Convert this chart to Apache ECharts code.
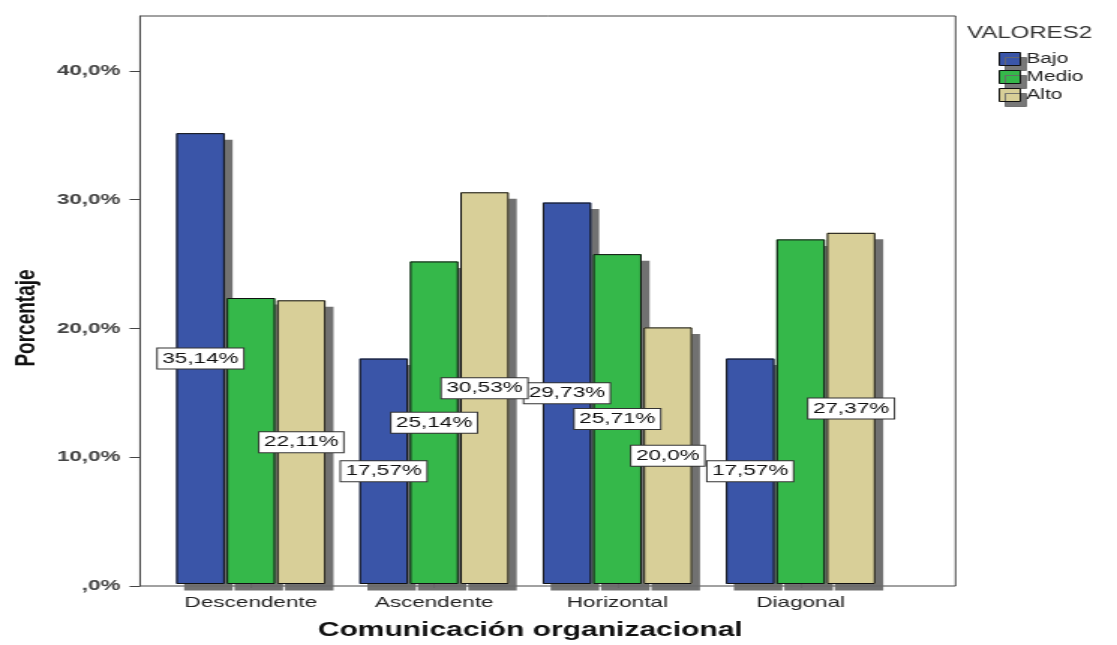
<!DOCTYPE html>
<html>
<head>
<meta charset="utf-8">
<script src="https://cdn.jsdelivr.net/npm/echarts@6/dist/echarts.min.js"></script>
<style>
  html, body { margin: 0; padding: 0; background: #fff; overflow: hidden; }
  #chart { width: 745px; height: 645px; transform: scaleX(1.49933); transform-origin: 0 0; }
</style>
</head>
<body>
<div id="chart"></div>
<script>
// ---- data ----
const categories = ['Descendente', 'Ascendente', 'Horizontal', 'Diagonal'];
const seriesNames = ['Bajo', 'Medio', 'Alto'];
const bajo = [35.14, 17.57, 29.73, 17.57];
const medio = [22.29, 25.14, 25.71, 26.86];
const alto = [22.11, 30.53, 20.0, 27.37];
const bajoLabelShown = [true, true, true, true];
const medioLabelShown = [false, true, true, false];
const altoLabelShown = [true, true, true, true];
const yTickValues = [0, 10, 20, 30, 40];
const yTickLabels = [',0%', '10,0%', '20,0%', '30,0%', '40,0%'];
const legendTitle = 'VALORES2';
const xAxisTitle = 'Comunicación organizacional';
const yAxisTitle = 'Porcentaje';

// ---- chart ----
const FONT = 'Liberation Sans, Arial, sans-serif';
const colors = ['#3a55a8', '#35b84a', '#d8cf98'];
const Y_MAX = 44.27;

function fmtPct(v) {
  let s = v.toFixed(2);
  if (s.endsWith('0')) s = s.slice(0, -1);
  return s.replace('.', ',') + '%';
}

function buildData(values, shown) {
  return values.map((v, i) => ({ value: v, label: { show: shown[i] } }));
}

const barLayout = { barCategoryGap: '18.5%', barGap: '4%' };

// filled bars with drop shadow
function makeFillSeries(name, values, shown, idx) {
  return Object.assign({
    name: name,
    type: 'bar',
    xAxisIndex: 1,
    yAxisIndex: 1,
    clip: false,
    z: 2,
    data: buildData(values, shown),
    itemStyle: {
      color: colors[idx],
      borderWidth: 0,
      shadowColor: 'rgba(105,105,105,0.95)',
      shadowBlur: 0,
      shadowOffsetX: 5.3,
      shadowOffsetY: 6.5
    },
    label: {
      position: 'inside',
      formatter: p => fmtPct(p.value),
      color: '#111',
      fontFamily: FONT,
      fontSize: 15,
      lineHeight: 17,
      backgroundColor: '#fff',
      borderColor: '#333',
      borderWidth: 1,
      padding: [2, 3, 1, 3]
    },
    emphasis: { disabled: true }
  }, barLayout);
}

// outlines (so the shadow never shows through the border)
function makeOutlineSeries(values) {
  return Object.assign({
    type: 'bar',
    xAxisIndex: 2,
    yAxisIndex: 1,
    clip: false,
    z: 2,
    silent: true,
    data: values,
    itemStyle: { color: 'rgba(0,0,0,0)', borderColor: '#111', borderWidth: 1 },
    label: { show: false },
    emphasis: { disabled: true }
  }, barLayout);
}

const chart = echarts.init(document.getElementById('chart'));
chart.setOption({
  animation: false,
  backgroundColor: '#fff',
  textStyle: { fontFamily: FONT },
  title: {
    text: legendTitle,
    left: 645,
    top: 26,
    padding: 0,
    textStyle: { fontFamily: FONT, fontSize: 16, fontWeight: 'normal', color: '#333' }
  },
  legend: {
    data: seriesNames,
    orient: 'vertical',
    left: 666,
    top: 52,
    padding: 0,
    icon: 'rect',
    itemWidth: 14,
    itemHeight: 13,
    itemGap: 4,
    selectedMode: false,
    itemStyle: { borderColor: '#111', borderWidth: 1, shadowColor: 'rgba(105,105,105,0.9)', shadowBlur: 0, shadowOffsetX: 4, shadowOffsetY: 5 },
    textStyle: { fontFamily: FONT, fontSize: 14, color: '#222', padding: [0, 0, 0, -1] }
  },
  grid: [
    { left: 93.3, right: 107.7, top: 16, bottom: 59, show: true, borderColor: '#444', borderWidth: 1, backgroundColor: 'transparent' },
    { left: 106.2, right: 149.9, top: 16, bottom: 59 }
  ],
  xAxis: [
    { gridIndex: 0, type: 'category', data: categories, show: false },
    {
      gridIndex: 1,
      type: 'category',
      data: categories,
      axisLine: { show: false },
      axisTick: { show: true, alignWithLabel: true, length: 4, lineStyle: { color: '#444' } },
      axisLabel: { fontFamily: FONT, fontSize: 15, color: '#222', margin: 11 },
      name: xAxisTitle,
      nameLocation: 'middle',
      nameGap: 36,
      nameTextStyle: { fontFamily: FONT, fontSize: 20, fontWeight: 'bold', color: '#111', padding: [0, 0, 0, 6] }
    },
    { gridIndex: 1, type: 'category', data: categories, show: false }
  ],
  yAxis: [
    {
      gridIndex: 0,
      type: 'value',
      min: 0,
      max: Y_MAX,
      interval: 10,
      axisLine: { show: true, lineStyle: { color: '#444', width: 1 } },
      axisTick: { show: true, length: 7, customValues: yTickValues, lineStyle: { color: '#444' } },
      axisLabel: {
        customValues: yTickValues,
        margin: 13,
        fontFamily: FONT,
        fontSize: 15,
        fontWeight: 'bold',
        color: '#444',
        formatter: v => {
          const i = yTickValues.indexOf(Math.round(v));
          return i >= 0 ? yTickLabels[i] : '';
        }
      },
      splitLine: { show: false },
      name: yAxisTitle,
      nameLocation: 'middle',
      nameGap: 66,
      nameTextStyle: { fontFamily: FONT, fontSize: 19, fontWeight: 'bold', color: '#111', padding: [0, 34, 0, 0] }
    },
    { gridIndex: 1, type: 'value', min: 0, max: Y_MAX, show: false, splitLine: { show: false } }
  ],
  series: [
    makeFillSeries(seriesNames[0], bajo, bajoLabelShown, 0),
    makeFillSeries(seriesNames[1], medio, medioLabelShown, 1),
    makeFillSeries(seriesNames[2], alto, altoLabelShown, 2),
    makeOutlineSeries(bajo),
    makeOutlineSeries(medio),
    makeOutlineSeries(alto)
  ]
});
</script>
</body>
</html>
